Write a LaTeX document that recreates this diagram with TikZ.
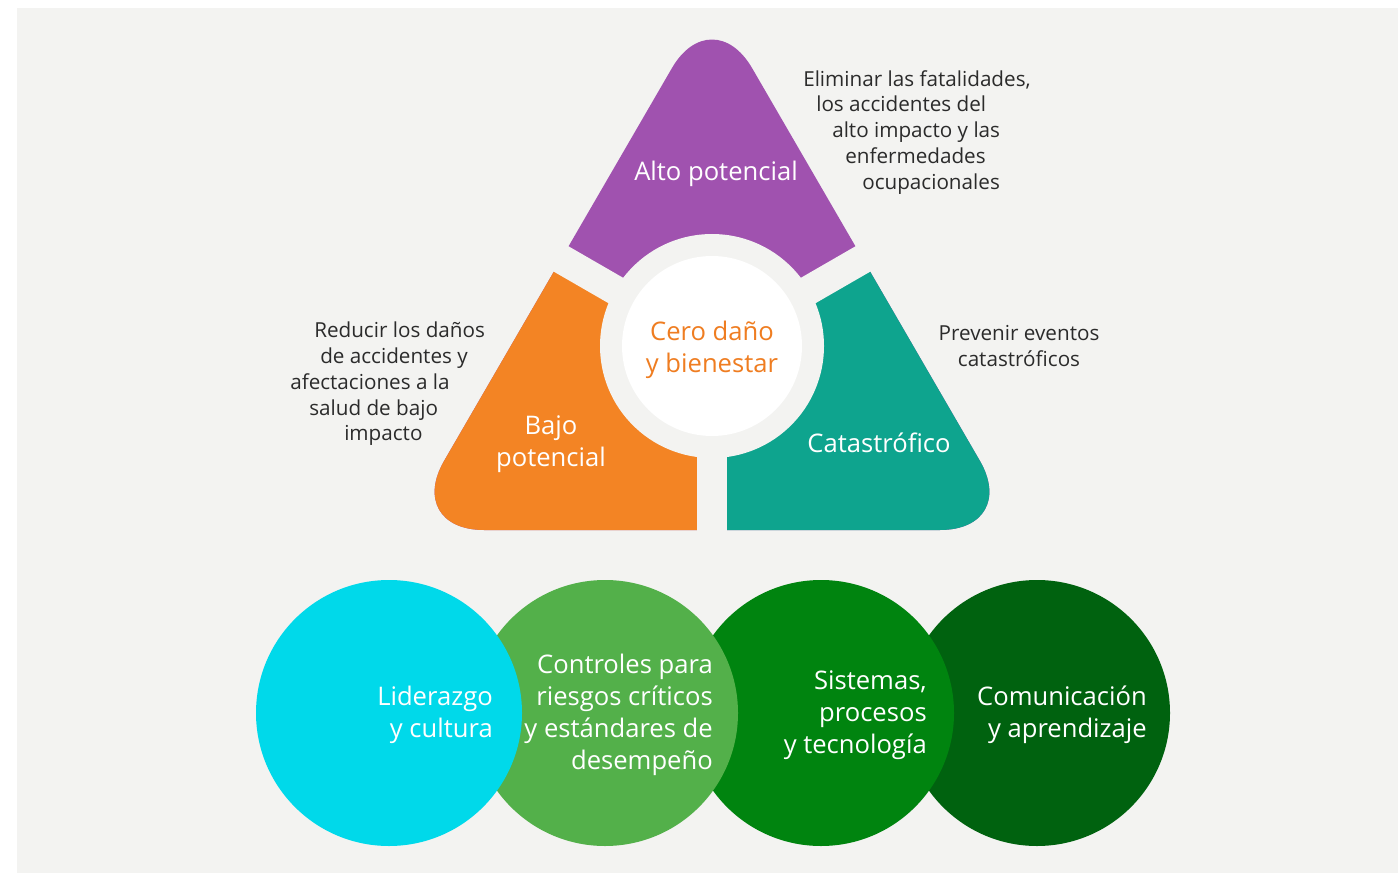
\documentclass[tikz,border=0pt]{standalone}
\usepackage{fontspec}
\setmainfont{Open Sans}
\definecolor{bg}{HTML}{F3F3F1}
\definecolor{cpurple}{HTML}{A052AF}
\definecolor{corange}{HTML}{F38424}
\definecolor{cteal}{HTML}{0EA48E}
\definecolor{ctext}{HTML}{EF7D21}
\definecolor{cdark}{HTML}{2B2B2B}
\definecolor{ccyan}{HTML}{00D9EA}
\definecolor{clgreen}{HTML}{53B04A}
\definecolor{cgreen}{HTML}{00840F}
\definecolor{cdgreen}{HTML}{00620F}
\begin{document}
\begin{tikzpicture}[x=0.75pt,y=-0.75pt,
  lbl/.style={text=white,font=\fontsize{19.2}{24}\selectfont,inner sep=0pt},
  desc/.style={text=cdark,font=\fontsize{15.5}{19.3}\selectfont,inner sep=0pt},
  disc/.style={circle,minimum size=199.5pt,inner sep=0pt}]
\useasboundingbox (0,0) rectangle (1398,873);
\fill[bg] (17,8) rectangle (1398,873);
\coordinate (A) at (712,-1);
\coordinate (B) at (404,530);
\coordinate (C) at (1020,530);
\coordinate (O) at (712,346);
\def\tri{(712,530) -- (C) -- (A) -- (B) -- cycle}
% purple top
\fill[cpurple,rounded corners=60pt] \tri;
% orange sector
\begin{scope}
\clip (O) -- (192,46) -- (192,900) -- (712,900) -- cycle;
\fill[corange,rounded corners=60pt] \tri;
\end{scope}
% teal sector
\begin{scope}
\clip (O) -- (1232,46) -- (1232,900) -- (712,900) -- cycle;
\fill[cteal,rounded corners=60pt] \tri;
\end{scope}
% gaps
\draw[bg,line width=22pt] (O) -- (712,700);
\draw[bg,line width=22pt] (O) -- (1232,46);
\draw[bg,line width=22pt] (O) -- (192,46);
\fill[bg] (O) circle[radius=84pt];
\node[circle,fill=white,minimum size=135pt,inner sep=0pt] (core) at (O) {};
% labels in triangle
\node[lbl] (alto) at (716,174) {Alto potencial};
\node[lbl,align=center] (bajo) at (551,444) {Bajo\\potencial};
\node[lbl] (cata) at (879,443) {Catastrófico};
\node[lbl,text=ctext,align=center] (cero) at (712,350) {Cero daño\\y bienestar};
% descriptions
\node[desc,align=left,anchor=north west] (dtop) at (803,70) {Eliminar las fatalidades,\\\hspace*{9.75pt}los accidentes del\\\hspace*{21.75pt}alto impacto y las\\\hspace*{31.5pt}enfermedades\\\hspace*{44.25pt}ocupacionales};
\node[desc,align=left,anchor=north west] (dleft) at (290,322) {\hspace*{18pt}Reducir los daños\\\hspace*{22.5pt}de accidentes y\\afectaciones a la\\\hspace*{14.25pt}salud de bajo\\\hspace*{40.5pt}impacto};
\node[desc,align=center] (dright) at (1019,346) {Prevenir eventos\\catastróficos};
% bottom circles
\node[disc,fill=cdgreen] (c4) at (1037,713) {};
\node[disc,fill=cgreen] (c3) at (821,713) {};
\node[disc,fill=clgreen] (c2) at (605,713) {};
\node[disc,fill=ccyan] (c1) at (389,713) {};
\node[lbl,align=right,anchor=east] (t1) at (493,715) {Liderazgo\\y cultura};
\node[lbl,align=right,anchor=east] (t2) at (713,715) {Controles para\\riesgos críticos\\y estándares de\\desempeño};
\node[lbl,align=right,anchor=east] (t3) at (927,715) {Sistemas,\\procesos\\y tecnología};
\node[lbl,align=right,anchor=east] (t4) at (1147,715) {Comunicación\\y aprendizaje};
\end{tikzpicture}
\end{document}
